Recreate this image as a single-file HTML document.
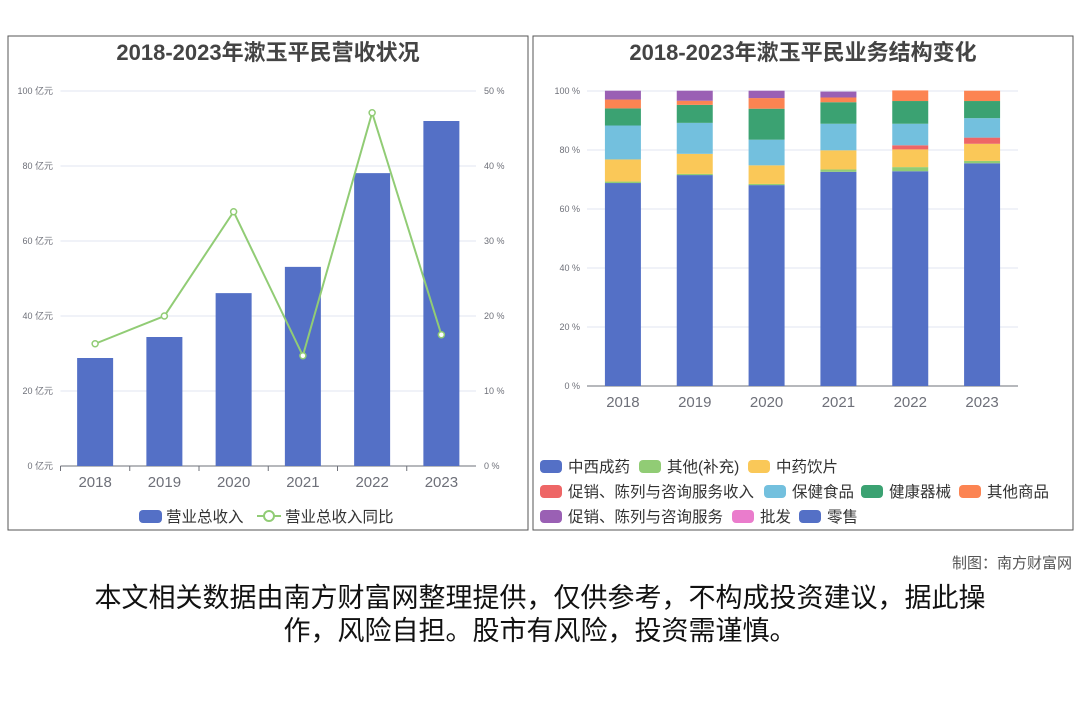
<!DOCTYPE html>
<html><head><meta charset="utf-8"><style>
body{margin:0;background:#fff;}
svg{display:block;font-family:"Liberation Sans","Noto Sans CJK SC",sans-serif;}
</style></head><body>
<svg id="s" width="1080" height="720" viewBox="0 0 1080 720">
<rect x="8" y="36" width="520" height="494" fill="#fff" stroke="#555"/>
<rect x="533" y="36" width="540" height="494" fill="#fff" stroke="#555"/>
<text x="268" y="60" text-anchor="middle" font-size="22" font-weight="bold" fill="#444">2018-2023年漱玉平民营收状况</text>
<text x="803" y="60" text-anchor="middle" font-size="22" font-weight="bold" fill="#444">2018-2023年漱玉平民业务结构变化</text>
<g id="L"></g><g id="R"></g>
<text x="1072" y="568" text-anchor="end" font-size="15" fill="#555">制图：南方财富网</text>
<text x="540" y="607" text-anchor="middle" font-size="27" fill="#111">本文相关数据由南方财富网整理提供，仅供参考，不构成投资建议，据此操</text>
<text x="540" y="640" text-anchor="middle" font-size="27" fill="#111">作，风险自担。股市有风险，投资需谨慎。</text>
</svg>
<script>
const years=["2018","2019","2020","2021","2022","2023"];
const revenue=[28.8,34.4,46.1,53.1,78.1,92.0];
const growth=[16.3,20.0,33.9,14.7,47.1,17.5];
const leftTicks=[0,20,40,60,80,100];
const rightTicks=[0,10,20,30,40,50];
const seriesNames=["中西成药","其他(补充)","中药饮片","促销、陈列与咨询服务收入","保健食品","健康器械","其他商品","促销、陈列与咨询服务","批发","零售"];
const seriesColors=["#5470c6","#91cc75","#fac858","#ee6666","#73c0de","#3ba272","#fc8452","#9a60b4","#ea7ccc","#5470c6"];
const s0=[68.8,71.5,68.1,72.6,72.8,75.5];
const s1=[0.5,0.4,0.4,0.8,1.4,0.8];
const s2=[7.5,6.8,6.3,6.5,6.0,5.8];
const s3=[0,0,0,0,1.4,2.1];
const s4=[11.5,10.5,8.7,9.0,7.3,6.6];
const s5=[5.8,6.1,10.5,7.3,7.7,5.8];
const s6=[3.0,1.4,3.6,1.6,3.6,3.5];
const s7=[3.0,3.4,2.5,2.0,0,0];
const s8=[0,0,0,0,0,0];
const s9=[0,0,0,0,0,0];
const stack=[s0,s1,s2,s3,s4,s5,s6,s7,s8,s9];
const NS="http://www.w3.org/2000/svg";
function mk(p,t,a,txt){const e=document.createElementNS(NS,t);for(const k in a)e.setAttribute(k,a[k]);if(txt!==undefined)e.textContent=txt;p.appendChild(e);return e;}
const L=document.getElementById('L');
const lx0=60.5,lx1=476,ly0=466,ly1=91;
const lyv=v=>ly0-(v/100)*(ly0-ly1);
const lyp=v=>ly0-(v/50)*(ly0-ly1);
const lbw=(lx1-lx0)/years.length;
const lcx=i=>lx0+lbw*(i+0.5);
leftTicks.forEach((t,i)=>{
 const y=lyv(t);
 let g=mk(L,'line',{x1:lx0,x2:lx1,y1:y,y2:y,stroke:t===0?'#6e7079':'#e0e6f1'});
 
 let a=mk(L,'text',{x:53,y:y+3,'text-anchor':'end','font-size':9,fill:'#6e7079'},t+' 亿元');
 
 let b=mk(L,'text',{x:484,y:lyp(rightTicks[i])+3,'font-size':9,fill:'#6e7079'},rightTicks[i]+' %');
 
});
years.forEach((yr,i)=>{
 const h=ly0-lyv(revenue[i]);
 let r=mk(L,'rect',{x:lcx(i)-18,y:lyv(revenue[i]),width:36,height:h,fill:'#5470c6'});
 
 let t=mk(L,'text',{x:lcx(i),y:487,'text-anchor':'middle','font-size':15,fill:'#6e7079'},yr);
 
 let k=mk(L,'line',{x1:lx0+lbw*i,x2:lx0+lbw*i,y1:ly0,y2:ly0+5,stroke:'#6e7079'});
 
});
let pl=mk(L,'polyline',{points:growth.map((v,i)=>lcx(i)+','+lyp(v)).join(' '),fill:'none',stroke:'#91cc75','stroke-width':2});

growth.forEach((v,i)=>{let c=mk(L,'circle',{cx:lcx(i),cy:lyp(v),r:3,fill:'#fff',stroke:'#91cc75','stroke-width':1.5});
 });
let lg1=mk(L,'rect',{x:139,y:510,width:23,height:13,rx:4,fill:'#5470c6'});

let lt1=mk(L,'text',{x:166,y:522,'font-size':15.5,fill:'#333'},'营业总收入');

let lg2=mk(L,'line',{x1:257,x2:281,y1:516,y2:516,stroke:'#91cc75','stroke-width':2});

let lg3=mk(L,'circle',{cx:269,cy:516,r:5,fill:'#fff',stroke:'#91cc75','stroke-width':2});

let lt2=mk(L,'text',{x:285,y:522,'font-size':15.5,fill:'#333'},'营业总收入同比');

const R=document.getElementById('R');
const rx0=587,rx1=1018,ry0=386,ry1=91;
const ry=v=>ry0-(v/100)*(ry0-ry1);
const rbw=(rx1-rx0)/years.length;
const rcx=i=>rx0+rbw*(i+0.5);
[0,20,40,60,80,100].forEach(t=>{
 let g=mk(R,'line',{x1:rx0,x2:rx1,y1:ry(t),y2:ry(t),stroke:t===0?'#6e7079':'#e0e6f1'});
 
 let a=mk(R,'text',{x:580,y:ry(t)+3,'text-anchor':'end','font-size':9,fill:'#6e7079'},t+' %');
 
});
years.forEach((yr,i)=>{
 let acc=0;
 stack.forEach((s,k)=>{
  const v=s[i]; if(v<=0)return;
  let r=mk(R,'rect',{x:rcx(i)-18,y:ry(acc+v),width:36,height:ry(acc)-ry(acc+v),fill:seriesColors[k]});
  
  acc+=v;
 });
 let t=mk(R,'text',{x:rcx(i),y:407,'text-anchor':'middle','font-size':15,fill:'#6e7079'},yr);
 
});
const legRows=[[540,639,748],[540,764,861,959],[540,732,799]];
const legY=[466,491,516];
let n=0;
legRows.forEach((row,ri)=>row.forEach(x=>{
 const k=n++;
 let sw=mk(R,'rect',{x:x,y:legY[ri]-6,width:22,height:13,rx:4,fill:seriesColors[k]});
 
 let tx=mk(R,'text',{x:x+28,y:legY[ri]+6,'font-size':15.5,fill:'#333'},seriesNames[k]);
 
}));
</script>
</body></html>
